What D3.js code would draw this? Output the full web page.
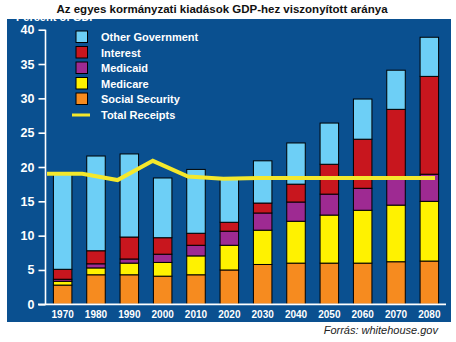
<!DOCTYPE html>
<html>
<head>
<meta charset="utf-8">
<script src="https://d3js.org/d3.v7.min.js"></script>
<style>
body { margin: 0; background: #fff; }
svg { display: block; font-family: "Liberation Sans", Arial, sans-serif; }
.axis text { fill: #fff; font-weight: bold; }
</style>
</head>
<body>
<div id="canvas"></div>
<script>
var years = ["1970", "1980", "1990", "2000", "2010", "2020", "2030", "2040", "2050", "2060", "2070", "2080"];
var socialSecurity = [2.8, 4.3, 4.3, 4.1, 4.3, 5.0, 5.8, 6.0, 6.0, 6.0, 6.2, 6.3];
var medicare       = [0.55, 1.0, 1.7, 2.0, 2.75, 3.6, 5.0, 6.1, 7.0, 7.7, 8.25, 8.7];
var medicaid       = [0.3, 0.6, 0.6, 1.2, 1.55, 2.05, 2.5, 2.8, 3.05, 3.2, 3.75, 3.95];
var interest       = [1.45, 1.9, 3.2, 2.4, 1.75, 1.3, 1.45, 2.6, 4.35, 7.15, 10.2, 14.25];
var otherGov       = [13.9, 13.8, 12.1, 8.7, 9.3, 6.35, 6.15, 6.0, 6.0, 5.85, 5.7, 5.7];
var totalReceipts  = [19.0, 19.0, 18.1, 20.9, 18.6, 18.3, 18.4, 18.4, 18.4, 18.4, 18.4, 18.4];
var yTicks = [0, 5, 10, 15, 20, 25, 30, 35, 40];

var seriesKeys = ["Social Security", "Medicare", "Medicaid", "Interest", "Other Government"];
var seriesValues = [socialSecurity, medicare, medicaid, interest, otherGov];
var colors = ["#f68b1f", "#fff200", "#9e2a92", "#c8161e", "#6dcff6"];
var lineColor = "#f4e82c";

var width = 456, height = 342;
var svg = d3.select("#canvas").append("svg")
    .attr("width", width)
    .attr("height", height);

// blue panel
svg.append("rect")
    .attr("x", 7).attr("y", 19)
    .attr("width", 444).attr("height", 303)
    .attr("fill", "#0a5090");

// y label mostly hidden under the title (white on white)
svg.append("text")
    .attr("x", 16).attr("y", 21)
    .attr("fill", "#fff")
    .attr("font-size", 11).attr("font-weight", "bold")
    .text("Percent of GDP");

svg.append("text")
    .attr("x", 222).attr("y", 13)
    .attr("text-anchor", "middle")
    .attr("font-size", 11.5).attr("font-weight", "bold")
    .attr("fill", "#111")
    .text("Az egyes kormányzati kiadások GDP-hez viszonyított aránya");

var xScale = d3.scaleBand().domain(years).range([46, 446]).paddingInner(0.445).paddingOuter(0.222);
var lineX = d3.scalePoint().domain(years).range([47, 435]);
var yScale = d3.scaleLinear().domain([0, 40]).range([304.3, 29.7]);

var table = years.map(function(y, i) {
    var row = { year: y };
    seriesKeys.forEach(function(k, j) { row[k] = seriesValues[j][i]; });
    return row;
});
var stacked = d3.stack().keys(seriesKeys)(table);

svg.append("g").selectAll("g")
    .data(stacked)
    .enter().append("g")
    .attr("fill", function(d, i) { return colors[i]; })
    .selectAll("rect")
    .data(function(d) { return d; })
    .enter().append("rect")
    .attr("x", function(d) { return xScale(d.data.year); })
    .attr("width", xScale.bandwidth())
    .attr("y", function(d) { return yScale(d[1]); })
    .attr("height", function(d) { return yScale(d[0]) - yScale(d[1]); })
    .attr("stroke", "#000")
    .attr("stroke-width", 1);

// y axis
var yAxis = d3.axisLeft(yScale).tickValues(yTicks).tickSize(7).tickPadding(4);
var gy = svg.append("g")
    .attr("class", "axis")
    .attr("transform", "translate(45.5,0)")
    .call(yAxis);
gy.select(".domain").remove();
gy.selectAll(".tick line").attr("stroke", "#fff").attr("stroke-width", 1.6);
gy.selectAll(".tick text").attr("font-size", 12.5).attr("font-family", "Liberation Sans, Arial, sans-serif");
gy.append("line")
    .attr("x1", 0).attr("x2", 0)
    .attr("y1", yScale(40)).attr("y2", yScale(0))
    .attr("stroke", "#fff").attr("stroke-width", 1.6);

// x axis
var xAxis = d3.axisBottom(xScale).tickSize(0).tickPadding(7);
var gx = svg.append("g")
    .attr("class", "axis")
    .attr("transform", "translate(0," + yScale(0) + ")")
    .call(xAxis);
gx.select(".domain").remove();
gx.selectAll(".tick text").attr("font-size", 10).attr("font-family", "Liberation Sans, Arial, sans-serif");
gx.append("line")
    .attr("x1", 38).attr("x2", 446)
    .attr("y1", 0).attr("y2", 0)
    .attr("stroke", "#fff").attr("stroke-width", 1.8);

// total receipts
svg.append("path")
    .datum(totalReceipts)
    .attr("fill", "none")
    .attr("stroke", lineColor)
    .attr("stroke-width", 4)
    .attr("d", d3.line()
        .x(function(d, i) { return lineX(years[i]); })
        .y(function(d) { return yScale(d); }));

// legend
var legendItems = seriesKeys.slice().reverse();
var legend = svg.append("g").attr("transform", "translate(76,37)");
legendItems.forEach(function(k, i) {
    var c = colors[seriesKeys.indexOf(k)];
    legend.append("rect")
        .attr("x", 0).attr("y", i * 15.5 - 6)
        .attr("width", 11.5).attr("height", 11.5)
        .attr("fill", c).attr("stroke", "#000").attr("stroke-width", 1);
    legend.append("text")
        .attr("x", 25).attr("y", i * 15.5 + 4)
        .attr("fill", "#fff")
        .attr("font-size", 11).attr("font-weight", "bold")
        .text(k);
});
legend.append("line")
    .attr("x1", -4).attr("x2", 14)
    .attr("y1", 5 * 15.5 + 0.5).attr("y2", 5 * 15.5 + 0.5)
    .attr("stroke", lineColor).attr("stroke-width", 3);
legend.append("text")
    .attr("x", 25).attr("y", 5 * 15.5 + 4)
    .attr("fill", "#fff")
    .attr("font-size", 11).attr("font-weight", "bold")
    .text("Total Receipts");

svg.append("text")
    .attr("x", 438).attr("y", 334)
    .attr("text-anchor", "end")
    .attr("font-size", 11).attr("font-style", "italic")
    .attr("fill", "#222")
    .text("Forrás: whitehouse.gov");
</script>
</body>
</html>
